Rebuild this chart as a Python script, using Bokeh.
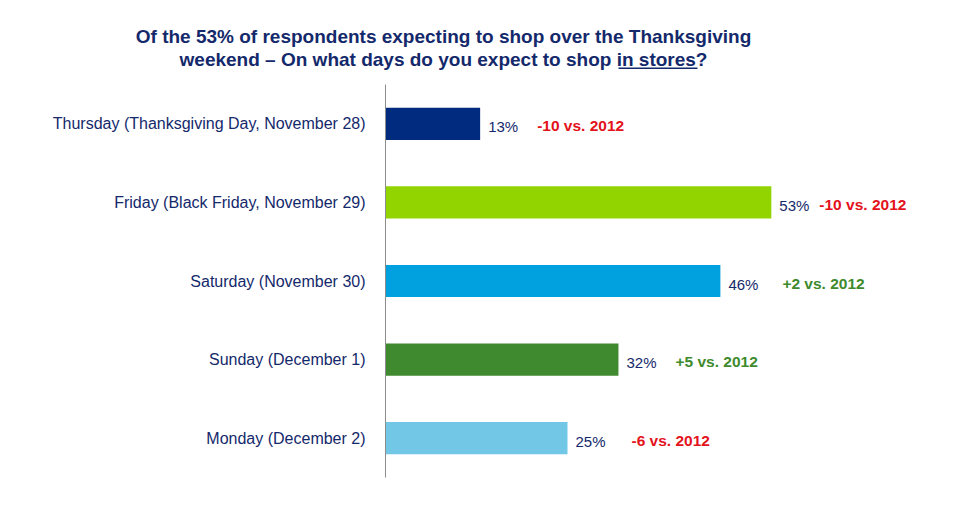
from bokeh.plotting import figure
from bokeh.models import FactorRange, Range1d, Plot
from bokeh.layouts import column
from bokeh.embed import file_html
from bokeh.resources import INLINE
from bokeh.core.properties import value

# ---- data ----
days = [
    "Thursday (Thanksgiving Day, November 28)",
    "Friday (Black Friday, November 29)",
    "Saturday (November 30)",
    "Sunday (December 1)",
    "Monday (December 2)",
]
shares = [13, 53, 46, 32, 25]
changes_vs_2012 = [-10, -10, 2, 5, -6]
title_line1 = "Of the 53% of respondents expecting to shop over the Thanksgiving"
title_line2 = "weekend \u2013 On what days do you expect to shop in stores?"

# ---- styles ----
bar_colors = ["#002B7F", "#92D400", "#00A1DE", "#3F8A2E", "#72C7E7"]
change_px_offsets = [57, 48, 62, 57, 64]
NAVY = "#14296B"
RED = "#E3121B"
GREEN = "#3E8A2D"
FONT = "Liberation Sans"

W, H = 960, 506
TITLE_H = 84
FRAME_L, FRAME_B, FRAME_W = 385, 477, 546

# ---- title strip (its own figure, pixel-like ranges, y downwards) ----
t = figure(width=W, height=TITLE_H, x_range=Range1d(0, W), y_range=Range1d(TITLE_H, 0),
           x_axis_type=None, y_axis_type=None, output_backend="svg", toolbar_location=None,
           min_border=0)
t.outline_line_color = None
t.grid.visible = False
t.text(x=[443, 443], y=[36.2, 58.5], text=[title_line1, title_line2],
       text_align="center", text_baseline="middle",
       text_font=value(FONT), text_font_size="19px", text_font_style="bold",
       text_color=NAVY)
# underline of "in stores"
t.segment(x0=[618], y0=[67.8], x1=[697], y1=[67.8], line_color=NAVY, line_width=1.5)

# ---- bar chart ----
CH = H - TITLE_H
p = figure(
    width=W, height=CH,
    y_range=FactorRange(factors=days[::-1]),
    x_range=Range1d(0, 75),
    output_backend="svg", toolbar_location=None,
    min_border_left=FRAME_L, min_border_right=W - FRAME_L - FRAME_W,
    min_border_top=0, min_border_bottom=CH - (FRAME_B - TITLE_H),
)
p.outline_line_color = None
p.grid.visible = False
p.xaxis.visible = False

if "frame_align" in Plot.properties():
    t.frame_align = False
    p.frame_align = False

yax = p.yaxis[0]
yax.axis_line_color = "#8C8C8C"
yax.axis_line_width = 1
yax.major_tick_line_color = None
yax.minor_tick_line_color = None
yax.major_label_standoff = 14
yax.major_label_text_font = FONT
yax.major_label_text_font_size = "16px"
yax.major_label_text_color = NAVY

p.hbar(y=days, left=0, right=shares, height=0.41, fill_color=bar_colors, line_color=None)

p.text(x=shares, y=days, text=[f"{v}%" for v in shares],
       x_offset=8, y_offset=3, text_align="left", text_baseline="middle",
       text_font=value(FONT), text_font_size="15px", text_color=NAVY)

change_texts = [f"{c:+d} vs. 2012" for c in changes_vs_2012]
change_colors = [RED if c < 0 else GREEN for c in changes_vs_2012]
p.text(x=shares, y=days, text=change_texts,
       x_offset=change_px_offsets, y_offset=2, text_align="left", text_baseline="middle",
       text_font=value(FONT), text_font_size="15.5px", text_font_style="bold",
       text_color=change_colors)

layout = column(t, p, spacing=0)
open("out.html", "w").write(file_html(layout, INLINE))
